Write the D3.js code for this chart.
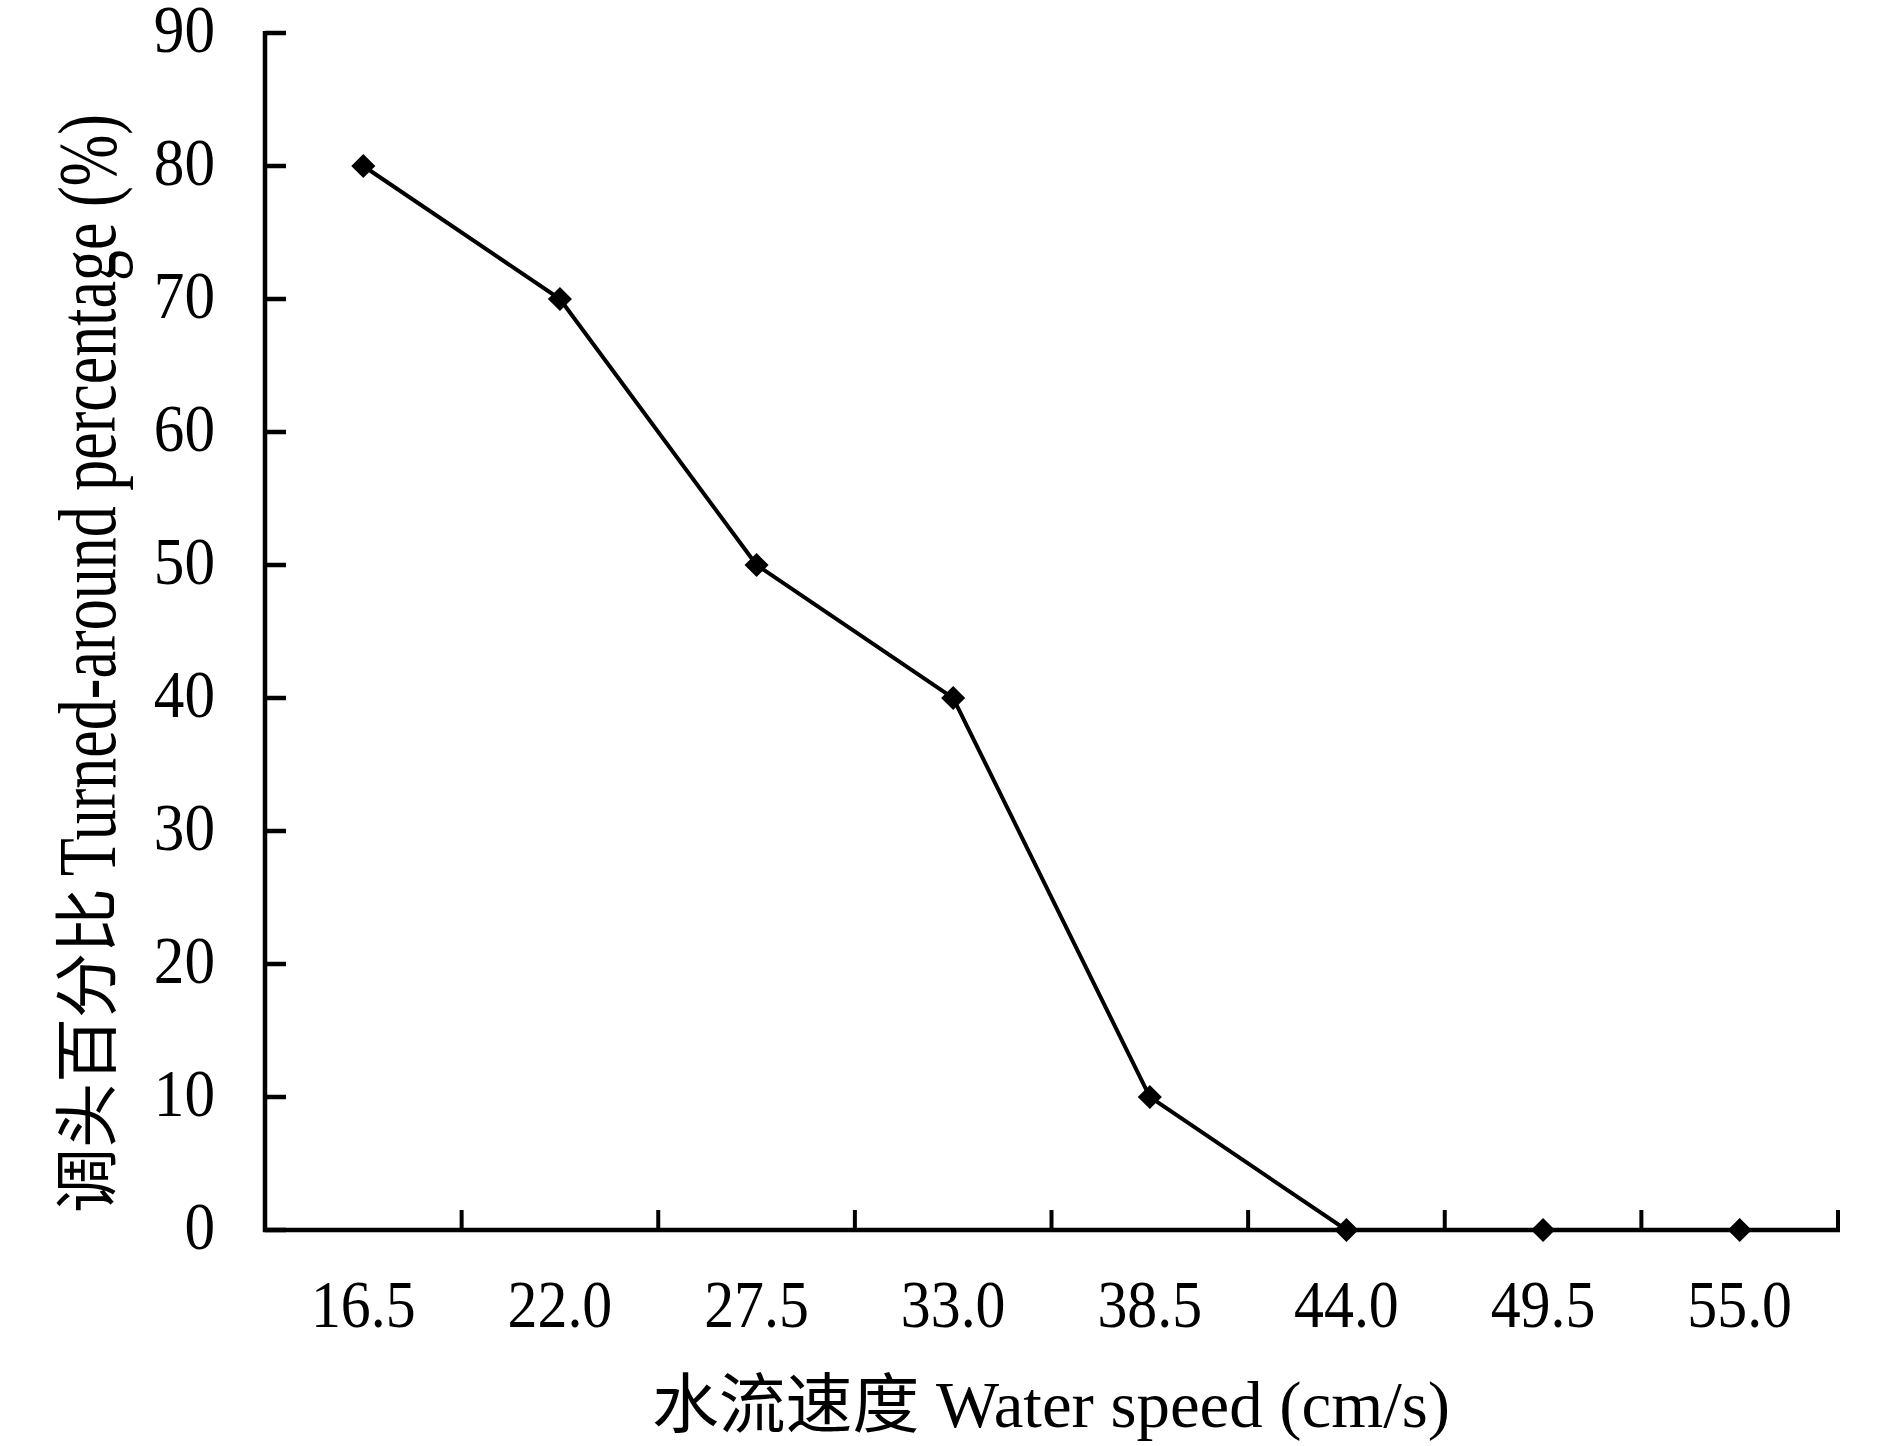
<!DOCTYPE html>
<html>
<head>
<meta charset="utf-8">
<script src="https://cdn.jsdelivr.net/npm/d3@7"></script>
<style>
  body { margin: 0; background: #fff; }
  text { fill: #000; }
</style>
</head>
<body>
<svg id="chart"></svg>
<script>
// data
var speeds = ["16.5", "22.0", "27.5", "33.0", "38.5", "44.0", "49.5", "55.0"];
var turned = [80, 70, 50, 40, 10, 0, 0, 0];
var y_ticks = [0, 10, 20, 30, 40, 50, 60, 70, 80, 90];

var x_title_cn = "水流速度";
var x_title_en = " Water speed (cm/s)";
var y_title_cn = "调头百分比";
var y_title_en = "Turned-around percentage (%)";

var w = 1890;
var h = 1446;
// note: "top" is taken by window.top, so plot_* names
var plot_left = 265, plot_right = 1838, plot_top = 33, plot_bottom = 1230;

var latin = "'Liberation Serif', 'Times New Roman', serif";
var cjk = "'Noto Sans CJK SC', sans-serif";

var svg = d3.select("#chart")
  .attr("width", w)
  .attr("height", h);

var x = d3.scaleBand()
  .domain(speeds)
  .range([plot_left, plot_right]);

var y = d3.scaleLinear()
  .domain([0, 90])
  .range([plot_bottom, plot_top]);

// squeeze a text a bit, the original font is narrow
function condense(sel, k) {
  sel.each(function() {
    var len = this.getComputedTextLength();
    this.setAttribute("textLength", len * k);
    this.setAttribute("lengthAdjust", "spacingAndGlyphs");
  });
}

// y axis
svg.append("line")
  .attr("x1", plot_left).attr("x2", plot_left)
  .attr("y1", y(90) - 2).attr("y2", plot_bottom + 2)
  .attr("stroke", "#000").attr("stroke-width", 4.5);

svg.selectAll(".ytick")
  .data(y_ticks)
  .enter().append("line")
  .attr("x1", plot_left).attr("x2", plot_left + 21)
  .attr("y1", function(d) { return y(d); })
  .attr("y2", function(d) { return y(d); })
  .attr("stroke", "#000").attr("stroke-width", 4.5);

svg.selectAll(".ylab")
  .data(y_ticks)
  .enter().append("text")
  .attr("x", 215)
  .attr("y", function(d) { return y(d) + 19; })
  .attr("text-anchor", "end")
  .style("font-family", latin)
  .style("font-size", "68px")
  .text(function(d) { return d; })
  .call(condense, 0.9);

// x axis
svg.append("line")
  .attr("x1", plot_left - 2).attr("x2", plot_right + 2)
  .attr("y1", plot_bottom).attr("y2", plot_bottom)
  .attr("stroke", "#000").attr("stroke-width", 4.5);

svg.selectAll(".xtick")
  .data(speeds)
  .enter().append("line")
  .attr("x1", function(d) { return x(d) + x.bandwidth(); })
  .attr("x2", function(d) { return x(d) + x.bandwidth(); })
  .attr("y1", plot_bottom).attr("y2", plot_bottom - 20)
  .attr("stroke", "#000").attr("stroke-width", 4);

svg.selectAll(".xlab")
  .data(speeds)
  .enter().append("text")
  .attr("x", function(d) { return x(d) + x.bandwidth() / 2; })
  .attr("y", 1327)
  .attr("text-anchor", "middle")
  .style("font-family", latin)
  .style("font-size", "68px")
  .text(function(d) { return d; })
  .call(condense, 0.88);

// titles
var xt = svg.append("text")
  .attr("x", 652)
  .attr("y", 1427)
  .style("font-family", latin)
  .style("font-size", "65px");
xt.append("tspan").style("font-family", cjk).text(x_title_cn);
xt.append("tspan").text(x_title_en);
xt.attr("textLength", 798).attr("lengthAdjust", "spacingAndGlyphs");

var yt = svg.append("g")
  .attr("transform", "translate(115," + 1213 + ") rotate(-90)");
yt.append("text")
  .attr("x", 0).attr("y", -5)
  .style("font-family", cjk)
  .style("font-size", "65px")
  .attr("textLength", 325)
  .attr("lengthAdjust", "spacingAndGlyphs")
  .text(y_title_cn);
yt.append("text")
  .attr("x", 337).attr("y", 0)
  .style("font-family", latin)
  .style("font-size", "82px")
  .attr("textLength", 1213 - 337 - 114)
  .attr("lengthAdjust", "spacingAndGlyphs")
  .text(y_title_en);

// line and markers
var points = speeds.map(function(s, i) { return [s, turned[i]]; });

var line = d3.line()
  .x(function(d) { return x(d[0]) + x.bandwidth() / 2; })
  .y(function(d) { return y(d[1]); });

svg.append("path")
  .datum(points)
  .attr("d", line)
  .attr("fill", "none")
  .attr("stroke", "#000")
  .attr("stroke-width", 4);

var diamond = d3.symbol().type(d3.symbolSquare).size(290);

svg.selectAll(".marker")
  .data(points)
  .enter().append("path")
  .attr("d", diamond)
  .attr("transform", function(d) {
    return "translate(" + (x(d[0]) + x.bandwidth() / 2) + "," + y(d[1]) + ") rotate(45)";
  })
  .attr("fill", "#000");
</script>
</body>
</html>
